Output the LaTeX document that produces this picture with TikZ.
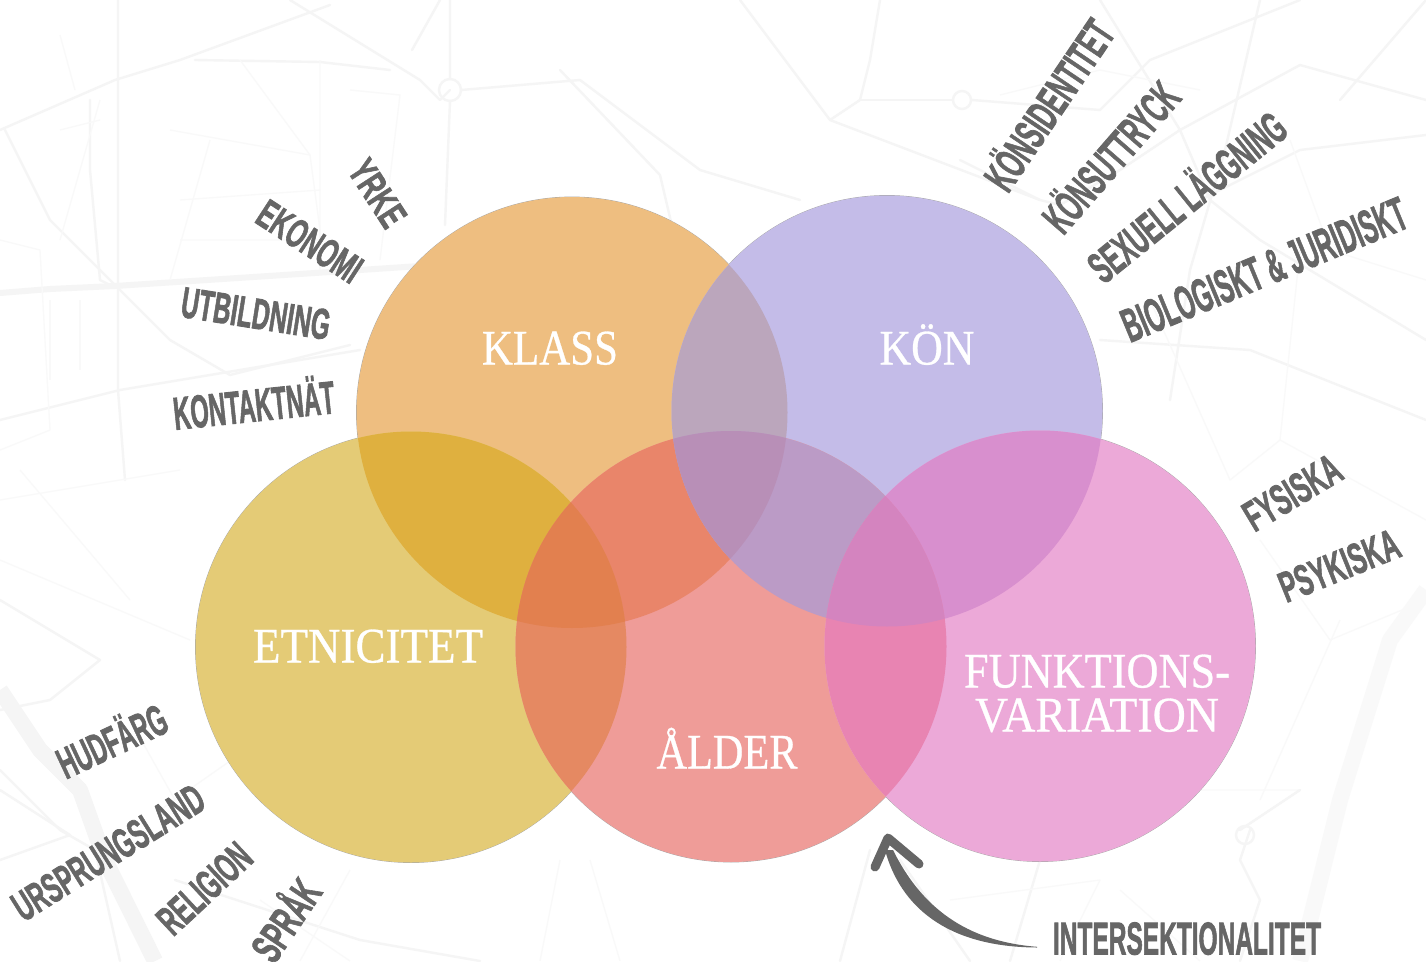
\documentclass[tikz,border=0pt]{standalone}
\usepackage{fontspec}
\usepackage{graphicx}
\setmainfont{Liberation Sans}[BoldFeatures={FakeBold=2}]
\newfontfamily\slabfont{Liberation Serif}[FakeBold=0.6]
\newsavebox\lbox
\newcommand{\fitbox}[5]{%
  \fontsize{#2pt}{#2pt}\selectfont #1%
  \sbox\lbox{#5}%
  \pgfmathsetmacro\myxs{#4/\the\wd\lbox}%
  \raisebox{0pt}[#3pt][0pt]{\scalebox{\myxs}[1]{\usebox\lbox}}%
}
\newcommand{\lab}[7]{%
  \pgfmathsetmacro\myfs{#6/0.716}%
  \node[labeltext,rotate=#4] (#1) at (#2,#3) {\fitbox{\bfseries}{\myfs}{#6}{#5}{#7}};%
}
\newcommand{\circlab}[5]{%
  \node[circletext] (#1) at (#2,#3) {\fitbox{\slabfont}{49.8}{33}{#4}{#5}};%
}
\definecolor{cKlass}{HTML}{EEBE80}
\definecolor{cKon}{HTML}{C4BCE8}
\definecolor{cEtn}{HTML}{E4CB76}
\definecolor{cAlder}{HTML}{EF9C98}
\definecolor{cFunk}{HTML}{ECA9D8}
\definecolor{cKE}{HTML}{DFB03F}
\definecolor{cKA}{HTML}{E9856A}
\definecolor{cKEA}{HTML}{E2804F}
\definecolor{cEA}{HTML}{E58962}
\definecolor{cKO}{HTML}{BBA6BC}
\definecolor{cKOA}{HTML}{B88FB7}
\definecolor{cOA}{HTML}{BB9BC6}
\definecolor{cOF}{HTML}{D88FCE}
\definecolor{cOAF}{HTML}{D484BF}
\definecolor{cAF}{HTML}{E884B2}
\definecolor{inkgray}{HTML}{666666}
\definecolor{roada}{HTML}{F5F5F5}
\definecolor{roadb}{HTML}{F9F9F9}
\tikzset{
  labeltext/.style={inner sep=0pt,outer sep=0pt,text=inkgray,anchor=center},
  circletext/.style={inner sep=0pt,outer sep=0pt,text=white,anchor=center},
  road/.style={draw=roada,line width=2.4pt,line join=round,line cap=round},
  wideroad/.style={draw=roada,line width=6pt,line join=round,line cap=round},
  river/.style={draw=roada,line width=16pt,line join=round},
  street/.style={draw=roadb,line width=1.3pt,line join=round},
  ring/.style={draw=black!35,line width=0.8pt},
}
\def\rr{215.5}
\def\pK{(572,412.5) circle[radius=\rr]}
\def\pO{(887,411) circle[radius=\rr]}
\def\pE{(411,647) circle[radius=\rr]}
\def\pA{(731,646.5) circle[radius=\rr]}
\def\pF{(1040,646) circle[radius=\rr]}
\newcommand{\ovlb}[3]{\begin{scope}\clip #2;\fill[#1] #3;\end{scope}}
\newcommand{\ovlc}[4]{\begin{scope}\clip #2;\clip #3;\fill[#1] #4;\end{scope}}
\begin{document}
\begin{tikzpicture}[x=1pt,y=-1pt]
\useasboundingbox (0,0) rectangle (1426,961);
\fill[white] (0,0) rectangle (1426,961);
\begin{scope}
\clip (0,0) rectangle (1426,961);
% map background
\draw[road] (0,130) -- (115,80) -- (180,60) -- (330,5);
\draw[road] (118,0) -- (118,390) -- (125,480);
\draw[road] (90,100) -- (90,170) -- (100,280) -- (112,286);
\draw[wideroad] (0,293) -- (50,289) -- (115,286) -- (330,272) -- (420,266);
\draw[road] (5,130) -- (50,220) -- (115,285) -- (170,340) -- (230,375) -- (350,345);
\draw[road] (0,420) -- (120,390) -- (360,350);
\draw[road] (195,60) -- (320,62) -- (390,70);
\draw[road] (290,0) -- (420,80) -- (440,100) -- (450,90);
\draw[road] (450,0) -- (450,79) (450,101) -- (445,225);
\draw[road] (440,0) -- (412,50);
\draw[road] (450,90) circle[radius=11];
\draw[road] (461,90) -- (580,80) -- (700,170) -- (800,200);
\draw[road] (560,70) -- (660,175) -- (680,260);
\draw[road] (740,0) -- (830,120) -- (1040,200);
\draw[road] (830,120) -- (860,100) -- (870,60) -- (880,0);
\draw[road] (860,100) -- (952,100);
\draw[road] (962,100) circle[radius=9];
\draw[road] (972,100) -- (1100,110) -- (1150,60) -- (1300,0);
\draw[road] (960,160) -- (1040,200) -- (1060,205) -- (1120,170) -- (1180,130) -- (1300,65) -- (1426,100);
\draw[road] (1100,0) -- (1180,130) -- (1210,200) -- (1260,240) -- (1426,340);
\draw[road] (1260,0) -- (1225,150) -- (1190,270) -- (1170,400);
\draw[road] (1100,340) -- (1250,350) -- (1426,420);
\draw[road] (1200,200) -- (1300,150) -- (1426,135);
\draw[road] (1426,0) -- (1340,100);
\draw[river,draw=roadb] (1426,590) -- (1390,640) -- (1340,800) -- (1300,961);
\draw[road] (1250,830) -- (1240,860) -- (1260,900) -- (1240,961);
\draw[river] (0,690) -- (40,750) -- (80,790) -- (105,860) -- (155,961);
\draw[road] (0,770) -- (60,830) -- (95,850) -- (120,961);
\draw[road] (0,710) -- (50,700) -- (100,660) -- (0,600);
\draw[road] (0,860) -- (70,835) -- (0,790);
\draw[road] (175,880) -- (360,940) -- (480,961);
\draw[street] (590,860) -- (620,961) (560,860) -- (540,961);
\draw[road] (870,850) -- (840,961);
\draw[road] (1040,860) -- (1010,961);
\draw[road] (900,860) -- (970,961);
\draw[street] (1100,850) -- (1180,790) -- (1300,790);
\draw[road] (1240,830) -- (1300,790);
\draw[road] (1245,835) circle[radius=9];
\draw[street] (0,240) -- (40,250) -- (50,430) -- (0,450);
\draw[street] (60,35) -- (75,90) (60,130) -- (100,120);
\draw[street] (170,130) -- (310,155) -- (320,230) -- (320,270);
\draw[street] (210,140) -- (170,280) (240,60) -- (310,155);
\draw[street] (320,60) -- (320,270) (350,90) -- (400,95) -- (380,260);
\draw[street] (180,200) -- (320,190) (180,240) -- (320,240);
\draw[street] (50,300) -- (50,380) (80,300) -- (80,370);
\draw[street] (100,100) -- (60,240);
\draw[street] (1000,95) -- (1100,70) -- (1200,90) (1290,140) -- (1330,250) -- (1426,280);
\draw[street] (1150,300) -- (1230,480) -- (1280,440) -- (1426,520);
\draw[street] (1300,250) -- (1280,440) (1340,620) -- (1260,800);
\draw[street] (1120,890) -- (1200,961) (950,900) -- (1100,880) -- (1060,961);
\draw[street] (175,800) -- (130,720) (0,560) -- (190,640);
\draw[street] (20,470) -- (130,600) (0,500) -- (180,470);
\draw[street] (160,810) -- (260,740) (260,900) -- (350,961) (350,870) -- (300,961);
\draw[street] (1260,540) -- (1330,640) -- (1426,600);
\end{scope}
% outlines
\draw[ring] \pK; \draw[ring] \pO; \draw[ring] \pE; \draw[ring] \pA; \draw[ring] \pF;
% circles
\fill[cKlass] \pK;
\fill[cKon] \pO;
\fill[cEtn] \pE;
\fill[cAlder] \pA;
\fill[cFunk] \pF;
% overlaps of two
\ovlb{cKE}{\pK}{\pE}
\ovlb{cKA}{\pK}{\pA}
\ovlb{cEA}{\pE}{\pA}
\ovlb{cKO}{\pK}{\pO}
\ovlb{cOA}{\pO}{\pA}
\ovlb{cOF}{\pO}{\pF}
\ovlb{cAF}{\pA}{\pF}
% overlaps of three
\ovlc{cKEA}{\pK}{\pE}{\pA}
\ovlc{cKOA}{\pK}{\pO}{\pA}
\ovlc{cOAF}{\pO}{\pA}{\pF}
% circle labels
\circlab{klass}{550}{348}{136}{KLASS}
\circlab{kon}{927}{348}{95}{KÖN}
\circlab{etn}{368}{646}{230}{ETNICITET}
\circlab{alder}{727}{752}{141}{ÅLDER}
\circlab{funk}{1097}{671}{266}{FUNKTIONS-}
\circlab{vari}{1097}{715}{244}{VARIATION}
% outer labels
\lab{yrke}{378}{193}{-57}{72}{28}{YRKE}
\lab{ekon}{310}{241}{-33}{116}{29}{EKONOMI}
\lab{utb}{256}{313}{-9}{150}{31}{UTBILDNING}
\lab{kont}{254}{405}{6}{162}{33}{KONTAKTNÄT}
\lab{kid}{1049}{105}{56}{194}{32}{KÖNSIDENTITET}
\lab{kut}{1111}{157}{49}{182}{32}{KÖNSUTTRYCK}
\lab{sex}{1187}{197}{39}{240}{32}{SEXUELL LÄGGNING}
\lab{bio}{1264}{269}{22.5}{304}{34}{BIOLOGISKT \& JURIDISKT}
\lab{fys}{1292}{492}{31}{106}{31}{FYSISKA}
\lab{psy}{1339}{565}{22}{126}{31}{PSYKISKA}
\lab{hud}{112}{741}{25}{116}{31}{HUDFÄRG}
\lab{urs}{108}{852}{32}{218}{30}{URSPRUNGSLAND}
\lab{rel}{204}{888}{43}{112}{30}{RELIGION}
\lab{spr}{286}{920}{56}{88}{31}{SPRÅK}
\lab{inter}{1187}{938}{0}{268}{33}{INTERSEKTIONALITET}
% arrow
\coordinate (tipL) at (875,867);
\coordinate (tipA) at (888,838);
\coordinate (tipR) at (919,864);
\fill[inkgray] (885,850) .. controls (900,905) and (945,947) .. (1037,947.5)
  -- (1037,946.8) .. controls (975,942) and (925,915) .. (893,850) -- cycle;
\draw[inkgray,line width=9pt,line cap=round,line join=round] (tipL) -- (tipA) -- (tipR);
\end{tikzpicture}
\end{document}
